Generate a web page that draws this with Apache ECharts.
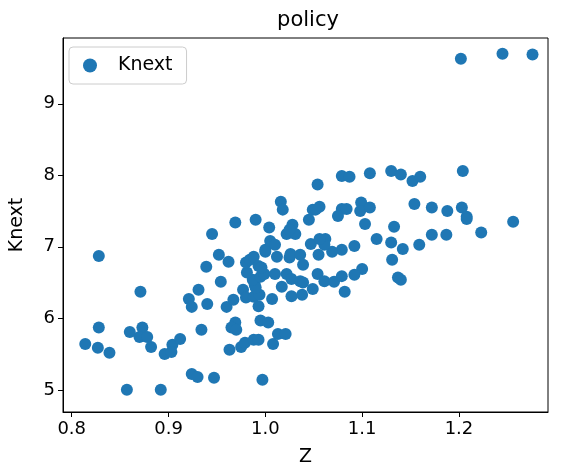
<!DOCTYPE html>
<html>
<head>
<meta charset="utf-8">
<script src="https://cdn.jsdelivr.net/npm/echarts@6/dist/echarts.min.js"></script>
<style>html,body{margin:0;padding:0;background:#fff}#chart{width:564px;height:472px}</style>
</head>
<body>
<div id="chart"></div>
<script>
// Z values
var zVals = [0.828,0.871,0.828,0.814,0.827,0.839,0.860,0.873,0.870,0.878,0.882,0.857,0.892,0.896,0.904,0.903,0.912,0.924,0.930,0.947,
	0.934,0.921,0.924,0.931,0.940,0.939,0.954,0.952,0.945,0.962,0.969,0.990,0.960,0.967,0.963,0.969,0.965,0.970,0.975,0.979,
	0.988,0.993,0.997,1.008,1.013,1.021,0.995,1.003,0.993,1.007,0.977,0.980,0.988,0.994,0.989,0.990,0.987,0.995,0.999,0.981,
	0.980,0.984,0.988,0.993,0.996,1.000,1.000,1.004,1.005,1.010,1.012,1.010,1.017,1.022,1.027,1.036,1.039,1.027,1.038,1.025,
	1.026,1.036,1.039,1.049,1.047,1.045,1.022,1.028,1.031,1.016,1.018,1.025,1.049,1.054,1.079,1.087,1.108,1.130,1.140,1.152,
	1.160,1.204,1.056,1.052,1.079,1.075,1.084,1.099,1.098,1.108,1.103,1.154,1.172,1.188,1.203,1.208,1.208,1.256,1.133,1.115,
	1.130,1.142,1.159,1.172,1.187,1.223,1.131,1.137,1.140,1.100,1.092,1.079,1.092,1.069,1.055,1.062,1.061,1.056,1.054,1.061,
	1.071,1.079,1.082,1.202,1.245,1.276]
var knextVals = [6.87,6.37,5.87,5.64,5.59,5.52,5.81,5.87,5.74,5.74,5.60,5.00,5.00,5.50,5.63,5.53,5.71,5.22,5.18,5.17,
	5.84,6.27,6.16,6.40,6.20,6.72,6.51,6.89,7.18,6.79,7.34,7.38,6.16,6.26,5.56,5.94,5.87,5.84,5.60,5.66,
	5.70,5.70,5.14,5.64,5.78,5.78,5.97,5.94,6.17,6.27,6.40,6.29,6.30,6.33,6.47,6.43,6.54,6.58,6.62,6.64,
	6.78,6.82,6.86,6.73,6.71,6.93,6.96,7.27,7.08,7.03,6.86,6.62,6.44,6.62,6.55,6.52,6.50,6.31,6.33,6.85,
	6.90,6.89,6.75,6.41,7.04,7.38,7.18,7.31,7.18,7.63,7.52,7.24,7.52,7.87,7.99,7.98,8.03,8.06,8.01,7.92,
	7.98,8.06,7.56,7.52,7.53,7.43,7.53,7.62,7.50,7.55,7.32,7.60,7.55,7.50,7.55,7.42,7.39,7.35,7.28,7.11,
	7.06,6.97,7.03,7.17,7.17,7.20,6.82,6.57,6.54,6.69,6.61,6.96,7.01,6.93,6.89,7.11,7.03,7.11,6.62,6.52,
	6.51,6.59,6.37,9.63,9.70,9.69]
var xTicks = [0.8,0.9,1.0,1.1,1.2]
var yTicks = [5,6,7,8,9]

var points = []
for(var i=0;i<zVals.length;i++){
	points.push([zVals[i],knextVals[i]])
}

var chart = echarts.init(document.getElementById('chart'))
var font = 'DejaVu Sans'
option = {
	animation:false,
	title:{
		text:'policy',
		left:303,
		top:5,
		textAlign:'center',
		textStyle:{fontFamily:font,fontSize:21,fontWeight:'normal',color:'#000'}
	},
	legend:{
		data:['Knext'],
		left:69,
		top:47,
		orient:'vertical',
		padding:[9,14,9,14],
		borderColor:'#cccccc',
		borderWidth:1,
		borderRadius:4,
		itemWidth:14,
		itemHeight:14,
		itemGap:10,
		textStyle:{fontFamily:font,fontSize:19,color:'#000',padding:[0,0,0,16]}
	},
	grid:{left:58,right:16,top:38,bottom:60,show:true,borderColor:'#000',borderWidth:1},
	xAxis:{
		type:'value',
		min:0.791,
		max:1.292,
		name:'Z',
		nameLocation:'middle',
		nameGap:36,
		nameTextStyle:{fontFamily:font,fontSize:19,color:'#000'},
		splitLine:{show:false},
		axisLine:{lineStyle:{color:'#000'}},
		axisTick:{customValues:xTicks,length:5,lineStyle:{color:'#000'}},
		axisLabel:{customValues:xTicks,fontFamily:font,fontSize:18,color:'#000',margin:8,formatter:function(v){return v.toFixed(1)}}
	},
	yAxis:{
		type:'value',
		min:4.69,
		max:9.92,
		name:'Knext',
		nameLocation:'middle',
		nameGap:36,
		nameTextStyle:{fontFamily:font,fontSize:19,color:'#000'},
		splitLine:{show:false},
		axisLine:{show:true,lineStyle:{color:'#000'}},
		axisTick:{show:true,customValues:yTicks,length:5,lineStyle:{color:'#000'}},
		axisLabel:{customValues:yTicks,fontFamily:font,fontSize:18,color:'#000',margin:8}
	},
	series:[
		{
			name:'Knext',
			type:'scatter',
			symbolSize:12,
			itemStyle:{color:'#1f77b4',opacity:1},
			data:points
		}
	]
}
chart.setOption(option)
</script>
</body>
</html>
